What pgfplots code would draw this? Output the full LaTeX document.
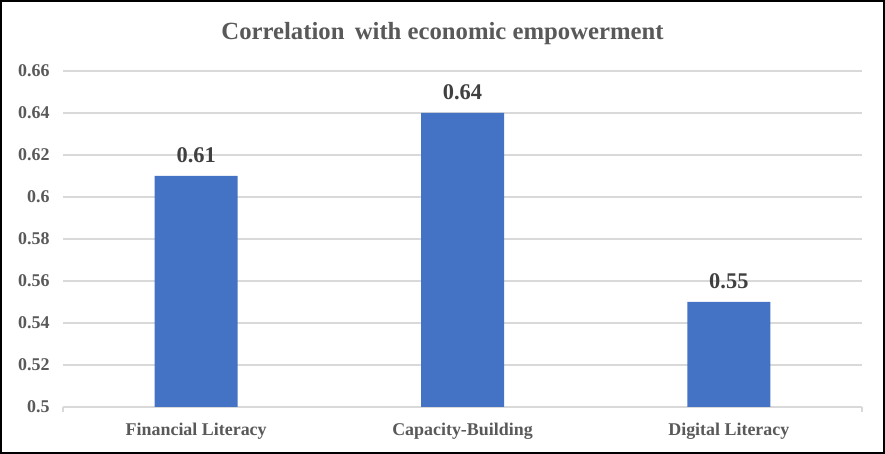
\documentclass[border=0pt]{standalone}
\usepackage{pgfplots}
\pgfplotsset{compat=1.18}
\usepackage{fontspec}
\setmainfont{Liberation Serif}
\definecolor{barblue}{HTML}{4472C4}
\definecolor{txtgray}{HTML}{595959}
\definecolor{lblgray}{HTML}{404040}
\definecolor{gridgray}{HTML}{D9D9D9}
\begin{document}
\begin{tikzpicture}[x=1bp,y=1bp]
\useasboundingbox (0,0) rectangle (885,454);
\fill[white] (0,0) rectangle (885,454);
\draw[black, line width=2bp] (1,1) rectangle (884,453);
\node[font=\fontsize{24.8}{28}\selectfont\bfseries, text=txtgray] at (442.5,420) {Correlation\, with economic empowerment};
\draw[gridgray, line width=1.3bp] (63,47) -- (63,42);
\draw[gridgray, line width=1.3bp] (862,47) -- (862,42);
\begin{axis}[
  at={(63bp,47bp)}, anchor=south west,
  scale only axis, width=799bp, height=336bp,
  xmin=-0.5, xmax=2.5, ymin=0.5, ymax=0.66,
  ytick={0.5,0.52,...,0.66},
  yticklabels={0.5,0.52,0.54,0.56,0.58,0.6,0.62,0.64,0.66},
  xtick=data, xticklabels={Financial Literacy,Capacity-Building,Digital Literacy},
  axis line style={draw=none},
  axis x line*=bottom,
  ymajorgrids, grid style={gridgray, line width=1.3bp},
  major tick length=0pt,
  tick label style={font=\fontsize{18}{20}\selectfont\bfseries, text=txtgray},
  yticklabel style={xshift=-10bp},
  xticklabel style={yshift=-13bp},
  ybar, bar width=83bp,
  nodes near coords,
  nodes near coords style={font=\fontsize{22.5}{26}\selectfont\bfseries, text=lblgray, yshift=10bp},
  point meta=explicit symbolic,
  clip=false,
]
\addplot[fill=barblue, draw=none] coordinates {(0,0.61) [0.61] (1,0.64) [0.64] (2,0.55) [0.55]};
\end{axis}
\end{tikzpicture}
\end{document}
